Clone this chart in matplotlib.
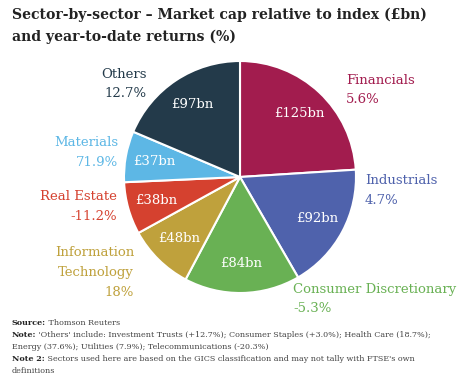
import numpy as np
import matplotlib
matplotlib.use('Agg')
import matplotlib.pyplot as plt

# sector data (market cap in £bn, YTD returns)
sectors = ['Financials', 'Industrials', 'Consumer Discretionary', 'Information\nTechnology',
           'Real Estate', 'Materials', 'Others']
market_cap = [125, 92, 84, 48, 38, 37, 97]
returns = ['5.6%', '4.7%', '-5.3%', '18%', '-11.2%', '71.9%', '12.7%']
colors = ['#A21C4E', '#4F62AC', '#69B154', '#BFA13C', '#D5412F', '#5DB7E5', '#233A4A']

W, H = 475, 387
FONT = 'DejaVu Serif'

# outer label anchors in pixels (x, y of first line, alignment)
label_pos = [(346, 80, 'left'), (365, 181, 'left'), (293, 289, 'left'),
             (134, 253, 'right'), (117, 197, 'right'), (118, 143, 'right'),
             (147, 74, 'right')]


def py(y):
    return H - y


fig = plt.figure(figsize=(W / 100, H / 100), dpi=100)
ax = fig.add_axes([0, 0, 1, 1])

cx, cy, r = 240, py(177), 116
wedges, _ = ax.pie(market_cap, colors=colors, startangle=90, counterclock=False,
                   center=(cx, cy), radius=r, frame=True,
                   wedgeprops=dict(edgecolor='white', linewidth=1.5))
ax.set_xlim(0, W)
ax.set_ylim(0, H)
ax.set_aspect('equal')
ax.axis('off')

# values inside wedges
for w, v in zip(wedges, market_cap):
    ang = np.deg2rad((w.theta1 + w.theta2) / 2)
    d = 0.75 * r
    ax.text(cx + d * np.cos(ang), cy + d * np.sin(ang), f'£{v}bn', color='white',
            fontsize=9.5, family=FONT, ha='center', va='center')

# sector names and returns
line_h = 19.5
for name, ret, col, (x, y, ha) in zip(sectors, returns, colors, label_pos):
    lines = name.split('\n') + [ret]
    for i, t in enumerate(lines):
        ax.text(x, py(y + i * line_h), t, color=col, fontsize=9.5, family=FONT,
                ha=ha, va='center')

# title, shrunk to fit the reference width
t1 = ax.text(12, py(15), 'Sector-by-sector – Market cap relative to index (£bn)',
             fontsize=12, fontweight='bold', family=FONT, color='#222222', va='center')
fig.canvas.draw()
fs = 12 * 413 / t1.get_window_extent().width
t1.set_fontsize(fs)
ax.text(12, py(37), 'and year-to-date returns (%)',
        fontsize=fs, fontweight='bold', family=FONT, color='#222222', va='center')

# footnotes
notes = [
    ('Source:', ' Thomson Reuters'),
    ('Note:', " 'Others' include: Investment Trusts (+12.7%); Consumer Staples (+3.0%); Health Care (18.7%);"),
    ('', 'Energy (37.6%); Utilities (7.9%); Telecommunications (-20.3%)'),
    ('Note 2:', " Sectors used here are based on the GICS classification and may not tally with FTSE's own"),
    ('', 'definitions'),
]
for i, (b, t) in enumerate(notes):
    y = py(323 + i * 12)
    txt = ax.text(12, y, b, fontsize=5.8, fontweight='bold', family=FONT,
                  color='#222222', va='center')
    fig.canvas.draw()
    bb = txt.get_window_extent()
    x2 = 12 + (bb.width if b else 0)
    ax.text(x2, y, t, fontsize=5.8, family=FONT, color='#444444', va='center')

fig.savefig('out.png', dpi=100)
